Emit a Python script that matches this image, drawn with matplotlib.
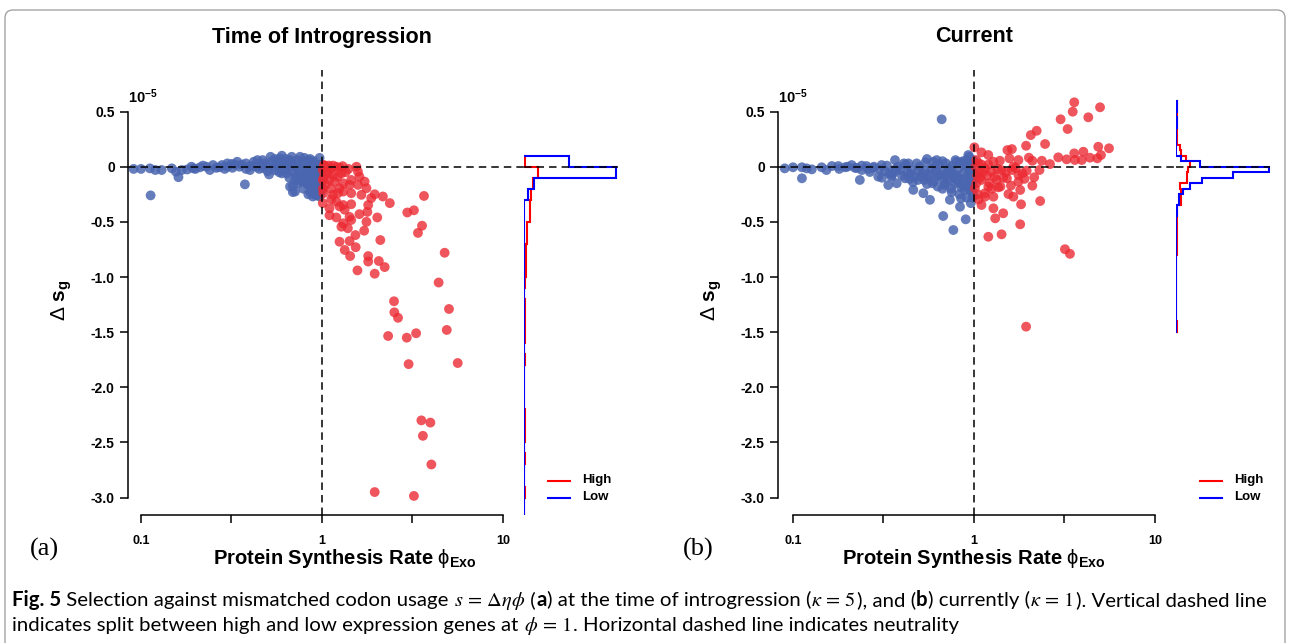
import numpy as np
import matplotlib
matplotlib.use("Agg")
import matplotlib.pyplot as plt
from matplotlib.lines import Line2D
from matplotlib.patches import FancyBboxPatch
from matplotlib.transforms import IdentityTransform, blended_transform_factory
from matplotlib.ticker import NullLocator

plt.rcParams['font.family'] = ['Liberation Sans', 'DejaVu Sans']
plt.rcParams['mathtext.fontset'] = 'custom'
plt.rcParams['mathtext.rm'] = 'Liberation Sans'
plt.rcParams['mathtext.bf'] = 'Liberation Sans:bold'
plt.rcParams['mathtext.it'] = 'Liberation Sans:italic'
plt.rcParams['mathtext.sf'] = 'Liberation Sans'

# ---------------- data ----------------
titles = ["Time of Introgression", "Current"]
panel_tags = ["(a)", "(b)"]
xtick_values = [0.1, 0.316, 1, 3.16, 10]
xtick_labels = ["0.1", "", "1", "", "10"]
ytick_values = [0.5, 0, -0.5, -1.0, -1.5, -2.0, -2.5, -3.0]
ytick_labels = ["0.5", "0", "-0.5", "-1.0", "-1.5", "-2.0", "-2.5", "-3.0"]
legend_labels = ["High", "Low"]

# (phi, delta s in units of 1e-5) -- panel a, low expression genes
low_a = np.array([
    (0.091, -0.02), (0.10, -0.02), (0.112, -0.015), (0.12, -0.03), (0.13, -0.03), (0.113, -0.26),
    (0.148, -0.015), (0.156, -0.045), (0.161, -0.095), (0.168, -0.03), (0.18, -0.025), (0.195, -0.015),
    (0.212, -0.005), (0.23, 0.0), (0.25, 0.015), (0.26, -0.01), (0.28, 0.015), (0.30, 0.0),
    (0.317, 0.025), (0.34, 0.045), (0.35, 0.0), (0.375, -0.16), (0.38, 0.03), (0.40, 0.005),
    (0.42, 0.045), (0.435, 0.0), (0.454, 0.025), (0.47, 0.06), (0.495, 0.015), (0.52, 0.09),
    (0.54, 0.0), (0.56, 0.045), (0.586, 0.075), (0.60, -0.03), (0.625, 0.015), (0.64, -0.06),
    (0.666, 0.06), (0.68, 0.09), (0.69, -0.175), (0.71, -0.225), (0.725, -0.015), (0.756, 0.09),
    (0.756, -0.105), (0.79, 0.015), (0.805, -0.06), (0.82, -0.12), (0.84, 0.06), (0.86, -0.03),
    (0.877, -0.21), (0.895, -0.15), (0.915, -0.24), (0.935, -0.06), (0.955, 0.015), (0.975, -0.18),
    (0.975, -0.10), (0.55, -0.03), (0.6, -0.06), (0.62, 0.03), (0.65, -0.02), (0.7, 0.02),
    (0.72, -0.08), (0.75, -0.03), (0.78, 0.04), (0.8, -0.1), (0.83, 0.0), (0.85, -0.07),
    (0.88, 0.03), (0.9, -0.12), (0.92, -0.04), (0.95, -0.2), (0.97, -0.27), (0.96, -0.15),
    (0.98, -0.05), (0.99, -0.22), (0.93, -0.1), (0.87, -0.17), (0.82, -0.05), (0.77, -0.13),
    (0.7, -0.05), (0.66, -0.1), (0.58, -0.05), (0.5, -0.04), (0.45, -0.02), (0.42, 0.01),
    (0.48, 0.03), (0.53, 0.05), (0.57, 0.02), (0.63, 0.07), (0.68, 0.04), (0.73, 0.06),
    (0.8, 0.08), (0.86, 0.07), (0.9, 0.05), (0.94, 0.0), (0.99, 0.02), (0.97, 0.08),
    (0.36, 0.02), (0.32, -0.01), (0.27, -0.005), (0.22, 0.01), (0.2, -0.02), (0.19, 0.0),
    (0.24, -0.03), (0.3, 0.03), (0.4, -0.03), (0.44, 0.06), (0.51, -0.07), (0.55, 0.07),
    (0.6, 0.1), (0.65, 0.03), (0.74, -0.15), (0.79, -0.2), (0.84, -0.25), (0.91, -0.25),
    (0.95, -0.25), (0.98, -0.12), (0.86, -0.1), (0.76, -0.07), (0.71, -0.12), (0.666, -0.18),
    (0.69, -0.23), (0.74, -0.12), (0.86, -0.23), (0.89, -0.27), (0.935, -0.26),
    (0.93, -0.17), (0.96, -0.08), (0.91, -0.19), (0.88, -0.08), (0.83, -0.16), (0.78, -0.09),
    (0.73, -0.1), (0.81, -0.14), (0.99, -0.16), (0.97, -0.22), (0.94, -0.13), (0.89, -0.13),
    (0.63, -0.03), (0.59, 0.04), (0.47, -0.01), (0.38, -0.02), (0.33, 0.02), (0.29, -0.02),
])

# panel a, high expression genes
high_a = np.array([
    (1.025, 0.015), (1.125, -0.015), (1.2, 0.0), (1.25, -0.01), (1.08, -0.06), (1.15, -0.075),
    (1.10, -0.12), (1.175, -0.135), (1.55, 0.0), (1.58, -0.045), (1.61, -0.09), (1.45, -0.12),
    (1.31, -0.15), (1.72, -0.135), (1.42, -0.165), (1.76, -0.195), (1.25, -0.195), (1.58, -0.165),
    (1.15, -0.255), (1.225, -0.24), (1.31, -0.225), (1.45, -0.24), (1.65, -0.255), (1.955, -0.25),
    (2.17, -0.27), (1.87, -0.285), (3.66, -0.265), (1.125, -0.295), (1.01, -0.33), (1.2, -0.317),
    (1.31, -0.347), (1.45, -0.34), (1.8, -0.347), (2.37, -0.33), (1.10, -0.377), (1.25, -0.36),
    (1.335, -0.39), (1.78, -0.41), (1.61, -0.43), (1.10, -0.44), (1.2, -0.46), (1.42, -0.455),
    (2.02, -0.46), (2.96, -0.415), (3.22, -0.395), (1.76, -0.5), (1.31, -0.513), (1.45, -0.483),
    (1.28, -0.544), (1.39, -0.558), (1.71, -0.58), (3.57, -0.535), (1.53, -0.62), (3.39, -0.6),
    (1.25, -0.68), (1.42, -0.674), (2.10, -0.665), (1.535, -0.73), (1.335, -0.755), (1.43, -0.81),
    (1.8, -0.81), (1.8, -0.86), (2.06, -0.855), (2.22, -0.91), (1.57, -0.94), (1.955, -0.97),
    (4.76, -0.78), (4.41, -1.05), (2.5, -1.22), (2.51, -1.32), (2.63, -1.37), (5.03, -1.29),
    (4.89, -1.48), (2.32, -1.535), (2.94, -1.55), (3.31, -1.51), (3.01, -1.79), (5.62, -1.78),
    (3.54, -2.3), (3.97, -2.32), (3.61, -2.44), (4.02, -2.7), (1.955, -2.95), (3.22, -2.985),
    (1.01, -0.03), (1.02, -0.1), (1.01, -0.2), (1.03, 0.01), (1.06, -0.04), (1.09, 0.01),
    (1.15, 0.01), (1.3, 0.005), (1.35, -0.05), (1.4, -0.02), (1.22, -0.09), (1.28, -0.06),
    (1.05, -0.16), (1.12, -0.2), (1.01, -0.12), (1.017, -0.24),
])

# panel b, low expression genes
low_b = np.array([
    (0.090, -0.015), (0.10, -0.005), (0.112, -0.005), (0.112, -0.105), (0.119, -0.015), (0.127, -0.024),
    (0.144, -0.005), (0.153, -0.03), (0.164, 0.006), (0.178, 0.006), (0.194, -0.005), (0.211, 0.015),
    (0.225, -0.012), (0.234, -0.12), (0.24, -0.03), (0.255, 0.006), (0.266, -0.048), (0.278, -0.012),
    (0.296, -0.09), (0.309, 0.015), (0.322, -0.04), (0.336, -0.166), (0.352, -0.075), (0.366, 0.06),
    (0.374, -0.15), (0.39, -0.03), (0.416, -0.105), (0.434, 0.03), (0.443, -0.066), (0.462, -0.21),
    (0.482, 0.03), (0.49, -0.12), (0.525, -0.24), (0.536, -0.04), (0.55, -0.157), (0.571, -0.30),
    (0.596, 0.045), (0.622, 0.06), (0.632, -0.084), (0.663, 0.43), (0.676, -0.447), (0.691, -0.166),
    (0.718, -0.03), (0.736, -0.30), (0.753, -0.23), (0.769, -0.574), (0.802, 0.045), (0.816, -0.102),
    (0.837, -0.363), (0.848, -0.287), (0.869, -0.166), (0.9, -0.477), (0.912, 0.06), (0.93, 0.106),
    (0.942, 0.09), (0.951, -0.21), (0.99, -0.257), (0.975, -0.075), (0.985, -0.14),
    (0.3, -0.02), (0.33, 0.01), (0.36, -0.05), (0.38, 0.0), (0.4, -0.08), (0.42, 0.02),
    (0.45, -0.03), (0.47, -0.09), (0.5, 0.0), (0.52, -0.06), (0.54, 0.04), (0.56, -0.1),
    (0.58, -0.02), (0.6, -0.13), (0.62, -0.05), (0.64, 0.02), (0.66, -0.1), (0.68, -0.04),
    (0.7, 0.03), (0.72, -0.12), (0.74, -0.06), (0.76, 0.01), (0.78, -0.15), (0.8, -0.08),
    (0.82, -0.02), (0.84, 0.04), (0.86, -0.11), (0.88, -0.05), (0.9, 0.01), (0.92, -0.18),
    (0.94, -0.09), (0.96, -0.03), (0.98, 0.03), (0.99, -0.12), (0.97, -0.2), (0.95, -0.14),
    (0.93, -0.06), (0.89, -0.21), (0.85, -0.19), (0.81, -0.13), (0.77, -0.07), (0.73, -0.01),
    (0.69, -0.15), (0.65, -0.07), (0.61, 0.0), (0.57, -0.07), (0.53, -0.12), (0.49, -0.04),
    (0.44, -0.11), (0.41, 0.03), (0.37, -0.02), (0.34, -0.06), (0.31, -0.1), (0.28, 0.0),
    (0.26, -0.02), (0.24, 0.01), (0.22, -0.01), (0.2, 0.0), (0.18, -0.02), (0.55, 0.07),
    (0.67, 0.05), (0.79, 0.06), (0.87, 0.05), (0.91, -0.28), (0.96, -0.33), (0.99, -0.05),
    (0.99, 0.06), (0.98, -0.28), (0.83, -0.25), (0.75, -0.2), (0.63, -0.18), (0.97, 0.0),
    (0.95, 0.04), (0.92, 0.02),
    (0.35, -0.09), (0.43, -0.05), (0.46, -0.14), (0.51, -0.09), (0.59, -0.15), (0.67, -0.2),
    (0.71, -0.09), (0.79, -0.11), (0.84, -0.15), (0.88, -0.13), (0.94, -0.2), (0.97, -0.1),
])

# panel b, high expression genes
high_b = np.array([
    (3.58, 0.584), (4.97, 0.539), (3.51, 0.499), (4.28, 0.448), (3.01, 0.43), (3.29, 0.342),
    (2.22, 0.326), (2.06, 0.287), (2.47, 0.206), (1.94, 0.19), (1.005, 0.176), (1.10, 0.13),
    (1.2, 0.106), (1.53, 0.151), (1.62, 0.16), (4.86, 0.181), (5.57, 0.167), (4.02, 0.136),
    (3.58, 0.121), (5.03, 0.106), (2.92, 0.085), (3.25, 0.067), (3.61, 0.061), (3.94, 0.061),
    (4.37, 0.082), (4.8, 0.076), (2.37, 0.054), (2.63, 0.024), (2.01, 0.082), (2.10, 0.054),
    (1.76, 0.061), (1.57, 0.076), (1.39, 0.054), (1.28, 0.045), (1.06, 0.031), (1.15, -0.015),
    (1.955, -0.036), (1.62, -0.03), (1.42, -0.03), (1.25, -0.045), (1.06, -0.054), (1.76, -0.075),
    (2.15, -0.096), (1.52, -0.105), (1.335, -0.12), (1.10, -0.12), (1.76, -0.136), (2.10, -0.172),
    (1.2, -0.181), (1.36, -0.187), (1.01, -0.196), (1.8, -0.211), (1.55, -0.248), (1.65, -0.272),
    (1.15, -0.272), (1.28, -0.272), (1.06, -0.296), (2.32, -0.311), (1.82, -0.341), (1.10, -0.347),
    (1.28, -0.377), (1.45, -0.422), (1.31, -0.468), (1.8, -0.522), (1.42, -0.613), (1.2, -0.635),
    (3.18, -0.748), (3.39, -0.79), (1.94, -1.45),
    (1.02, 0.0), (1.04, -0.08), (1.03, -0.15), (1.08, -0.1), (1.12, -0.05), (1.18, -0.08),
    (1.22, -0.15), (1.3, -0.09), (1.35, -0.02), (1.45, -0.1), (1.5, -0.05), (1.7, -0.01),
    (1.9, -0.11), (1.1, 0.02), (1.15, -0.24), (1.05, -0.25), (1.25, -0.2), (1.4, -0.18),
    (1.6, -0.17), (1.03, 0.06), (1.2, 0.02), (1.65, 0.0), (1.85, -0.06), (2.3, -0.03),
])

# marginal histograms (bar lengths), bins run from top edge downward
hist_edges_a = np.round(np.arange(0.1, -3.25, -0.1), 3)
hist_high_a = [1, 14, 9, 7, 6, 6, 2.7, 2.7, 1.5, 1.5, 1.5, 0.6, 0, 1.2, 1, 0.6, 1.2, 0,
               1.2, 0, 0, 0, 0, 0.6, 1, 0.6, 0, 0.6, 0, 0, 1.2, 0, 0]
hist_low_a = [45, 92, 10, 4] + [0] * 29

hist_edges_b = np.round(np.arange(0.6, -1.525, -0.05), 3)
hist_high_b = [1, 0.7, 1, 1, 0.7, 1, 1, 1, 4, 5, 10, 14, 12, 11, 11, 4, 5, 5, 5, 1, 1.2,
               1, 1.2, 1, 1, 1, 1, 1.2] + [0] * 12 + [1, 0.6]
hist_low_b = [0.5, 0.5, 0.3, 1, 0.6, 0.3, 0.3, 0.3, 0.3, 0.3, 5, 24, 92.7, 57, 26, 14, 6.7,
              3.3, 3.3, 1, 0.7, 0.3, 0.3, 0.3] + [0] * 18

# ---------------- style ----------------
W, H = 1290, 643
BLUE_PT = '#4A66B0'
RED_PT = '#EC2A33'
RED_LINE = '#FF0000'
BLUE_LINE = '#0000FF'
DASH = (0, (4.9, 3.3))
YLIM = (-3.158, 0.877)

fig = plt.figure(figsize=(W / 100, H / 100), dpi=100)


def fx(px):
    return px / W


def fy(py):
    return 1 - py / H


def step_outline(edges, heights):
    xs, ys = [0], [edges[0]]
    for i, h in enumerate(heights):
        xs += [h, h]
        ys += [edges[i], edges[i + 1]]
    return xs, ys


panels = [
    dict(x0=128, x1=524, tick0=141, low=low_a, high=high_a, edges=hist_edges_a,
         hh=hist_high_a, hl=hist_low_a, title=titles[0], tag=panel_tags[0],
         tagx=44, ylabx=62, legx=548, titlex=322, xlabx=345),
    dict(x0=778, x1=1176, tick0=793, low=low_b, high=high_b, edges=hist_edges_b,
         hh=hist_high_b, hl=hist_low_b, title=titles[1], tag=panel_tags[1],
         tagx=698, ylabx=712, legx=1200, titlex=974, xlabx=974),
]

top_px, bot_px = 70, 515
dec = 181.0
for p in panels:
    ax = fig.add_axes([fx(p['x0']), fy(bot_px), fx(p['x1'] - p['x0']), (bot_px - top_px) / H])
    lo = 10 ** (-1 - (p['tick0'] - p['x0']) / dec)
    hi = 10 ** (-1 + (p['x1'] - p['tick0']) / dec)
    ax.set_xscale('log')
    ax.set_xlim(lo, hi)
    ax.set_ylim(*YLIM)
    ax.patch.set_visible(False)
    ax.scatter(p['low'][:, 0], p['low'][:, 1], s=50, color=BLUE_PT, alpha=0.85,
               edgecolors='none', zorder=2)
    ax.scatter(p['high'][:, 0], p['high'][:, 1], s=50, color=RED_PT, alpha=0.8,
               edgecolors='none', zorder=3)
    ax.axhline(0, color='black', lw=1.1, ls=DASH, zorder=5)
    ax.axvline(1, color='black', lw=1.1, ls=DASH, zorder=5)
    for s in ['top', 'right']:
        ax.spines[s].set_visible(False)
    ax.spines['left'].set_bounds(-3.0, 0.5)
    ax.spines['bottom'].set_bounds(0.1, 10)
    for s in ['left', 'bottom']:
        ax.spines[s].set_linewidth(1.1)
    ax.xaxis.set_minor_locator(NullLocator())
    ax.set_xticks(xtick_values)
    ax.set_xticklabels(xtick_labels, fontsize=9, fontweight='bold')
    ax.set_yticks(ytick_values)
    ax.set_yticklabels(ytick_labels, fontsize=10, fontweight='bold')
    ax.tick_params(axis='both', length=5.5, width=1.1, direction='out')
    ax.tick_params(axis='y', pad=4)
    ax.tick_params(axis='x', pad=9)
    ax.text(0.0, fy(97), r'$\mathbf{10^{-5}}$',
            transform=blended_transform_factory(ax.transAxes, fig.transFigure),
            fontsize=10.5, ha='left', va='center')

    # marginal histogram panel
    hx = fig.add_axes([fx(p['x1']), fy(bot_px), fx(94), (bot_px - top_px) / H])
    hx.set_xlim(0, 94)
    hx.set_ylim(*YLIM)
    hx.axis('off')
    hx.axhline(0, color='black', lw=1.1, ls=DASH, zorder=5)
    xs, ys = step_outline(p['edges'], p['hh'])
    hx.plot(xs, ys, color=RED_LINE, lw=1.5, zorder=3, solid_joinstyle='miter')
    xs, ys = step_outline(p['edges'], p['hl'])
    hx.plot(xs, ys, color=BLUE_LINE, lw=1.5, zorder=4, solid_joinstyle='miter')

    # legend
    for k, (lab, col) in enumerate(zip(legend_labels, [RED_LINE, BLUE_LINE])):
        yy = 480.5 + 17 * k
        fig.add_artist(Line2D([fx(p['legx']), fx(p['legx'] + 22)], [fy(yy), fy(yy)],
                              color=col, lw=1.5, transform=fig.transFigure))
        fig.text(fx(p['legx'] + 34), fy(yy), lab, fontsize=9.5, fontweight='bold',
                 ha='left', va='center')

    fig.text(fx(p['titlex']), fy(37), p['title'], fontsize=15.5, fontweight='bold',
             ha='center', va='center')
    fig.text(fx(p['xlabx']), fy(558), r'Protein Synthesis Rate $\mathrm{\phi}_{\mathbf{Exo}}$',
             fontsize=14.5, fontweight='bold', ha='center', va='center')
    fig.text(fx(p['ylabx']), fy(300), r'$\Delta\ \mathbf{s}_{\mathbf{g}}$', fontsize=15,
             rotation=90, ha='center', va='center')
    fig.text(fx(p['tagx']), fy(549), p['tag'], fontsize=19, family='Liberation Serif',
             ha='center', va='center')

# figure frame
frame = FancyBboxPatch((5, -30), 1280, 663, boxstyle="round,pad=0,rounding_size=8",
                       transform=IdentityTransform(), facecolor='none', edgecolor='#9a9a9a', lw=0.9)
fig.add_artist(frame)

# caption
CAP_FONT = ['Lato', 'DejaVu Sans']
line1 = [("Fig. 5", 'b'), (" Selection against mismatched codon usage ", 'r'),
         (r"$s\,=\,\Delta\eta\phi$", 'm'), (" (", 'r'), ("a", 'b'),
         (") at the time of introgression (", 'r'), (r"$\kappa\,=\,5$", 'm'),
         ("), and (", 'r'), ("b", 'b'), (") currently (", 'r'), (r"$\kappa\,=\,1$", 'm'),
         ("). Vertical dashed line", 'r')]
line2 = [("indicates split between high and low expression genes at ", 'r'),
         (r"$\phi\,=\,1$", 'm'), (". Horizontal dashed line indicates neutrality", 'r')]

renderer = fig.canvas.get_renderer()


def seg_kwargs(kind, size):
    kw = dict(fontsize=size, family=CAP_FONT, ha='left', va='baseline')
    if kind == 'b':
        kw['fontweight'] = 'bold'
    if kind == 'm':
        kw['math_fontfamily'] = 'stix'
    return kw


def measure(s, kind, size):
    t = fig.text(0, 0, 'x' + s + 'x', **seg_kwargs(kind, size))
    w = t.get_window_extent(renderer).width
    t.remove()
    t2 = fig.text(0, 0, 'xx', **seg_kwargs(kind, size))
    w2 = t2.get_window_extent(renderer).width
    t2.remove()
    return w - w2


def line_width(segs, size):
    return sum(measure(s, k, size) for s, k in segs)


size = 12.0
size = size * 1250.0 / line_width(line1, size)


def draw_line(segs, x, y, size):
    for s, k in segs:
        fig.text(fx(x), fy(y), s, **seg_kwargs(k, size))
        x += measure(s, k, size)


draw_line(line1, 12, 606, size)
draw_line(line2, 12, 631, size)

fig.savefig('out.png', dpi=100)
